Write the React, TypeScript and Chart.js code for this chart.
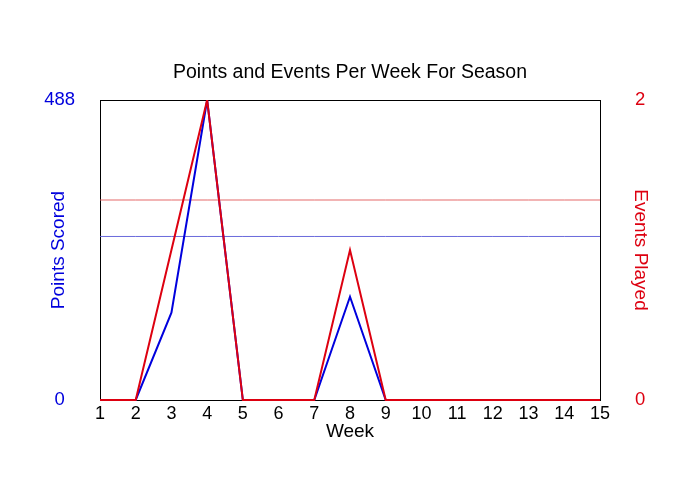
import React, { useEffect, useRef } from "react";
import { Chart, registerables } from "chart.js";

Chart.register(...registerables);

const weeks = [1, 2, 3, 4, 5, 6, 7, 8, 9, 10, 11, 12, 13, 14, 15];
const pointsScored = [0, 0, 142, 488, 0, 0, 0, 168, 0, 0, 0, 0, 0, 0, 0];
const eventsPlayed = [0, 0, 1, 2, 0, 0, 0, 1, 0, 0, 0, 0, 0, 0, 0];
const pointsTicks = [0, 488];
const eventsTicks = [0, 2];

const chartTitle = "Points and Events Per Week For Season";
const xTitle = "Week";
const leftTitle = "Points Scored";
const rightTitle = "Events Played";

const playedIdx = eventsPlayed.map((e, i) => (e > 0 ? i : -1)).filter((i) => i >= 0);
const avgPoints = playedIdx.reduce((s, i) => s + pointsScored[i], 0) / playedIdx.length;
const avgEvents = playedIdx.reduce((s, i) => s + eventsPlayed[i], 0) / playedIdx.length;

const BLUE = "#0000dd";
const RED = "#dd0010";
const FONT = "'Liberation Sans', Arial, sans-serif";

const boxPlugin = {
  id: "plotBox",
  beforeDatasetsDraw(chart: any) {
    const { ctx, chartArea } = chart;
    ctx.save();
    ctx.strokeStyle = "#000";
    ctx.lineWidth = 1;
    ctx.strokeRect(
      Math.round(chartArea.left) + 0.5,
      Math.round(chartArea.top) + 0.5,
      Math.round(chartArea.right - chartArea.left),
      Math.round(chartArea.bottom - chartArea.top)
    );
    ctx.restore();
  },
};

const lineClip = { left: 2, top: 0, right: 2, bottom: 2 };

export default function App() {
  const ref = useRef<HTMLCanvasElement>(null);
  useEffect(() => {
    if (!ref.current) return;
    const chart = new Chart(ref.current, {
      type: "line",
      data: {
        labels: weeks,
        datasets: [
          {
            label: "Events",
            data: eventsPlayed,
            yAxisID: "yR",
            borderColor: RED,
            borderWidth: 2,
            pointRadius: 0,
            tension: 0,
            clip: lineClip,
            order: 0,
          },
          {
            label: "Points",
            data: pointsScored,
            yAxisID: "yL",
            borderColor: BLUE,
            borderWidth: 2,
            pointRadius: 0,
            tension: 0,
            clip: lineClip,
            order: 1,
          },
          {
            label: "Avg Events",
            data: weeks.map(() => avgEvents),
            yAxisID: "yR",
            borderColor: "rgba(225,90,90,0.9)",
            borderWidth: 1,
            pointRadius: 0,
            order: 2,
          },
          {
            label: "Avg Points",
            data: weeks.map(() => avgPoints),
            yAxisID: "yL",
            borderColor: "rgba(90,90,215,0.9)",
            borderWidth: 1,
            pointRadius: 0,
            order: 3,
          },
        ],
      },
      options: {
        animation: false,
        responsive: false,
        maintainAspectRatio: false,
        layout: { padding: 0 },
        plugins: {
          legend: { display: false },
          tooltip: { enabled: false },
          title: {
            display: true,
            text: chartTitle,
            color: "#000",
            font: { family: FONT, size: 19.5, weight: "normal" },
            padding: { top: 61.3, bottom: 15.3 },
          },
        },
        scales: {
          x: {
            type: "category",
            offset: false,
            grid: { display: false },
            border: { display: false },
            ticks: {
              color: "#000",
              font: { family: FONT, size: 18 },
              padding: -5,
              maxRotation: 0,
              autoSkip: false,
            },
            title: {
              display: true,
              text: xTitle,
              color: "#000",
              font: { family: FONT, size: 19 },
              padding: { top: 0, bottom: 56.6 },
            },
            afterFit: (s: any) => {
              s.height = 100;
            },
          },
          yL: {
            type: "linear",
            position: "left",
            min: 0,
            max: pointsTicks[pointsTicks.length - 1],
            grid: { display: false },
            border: { display: false },
            afterBuildTicks: (s: any) => {
              s.ticks = pointsTicks.map((v) => ({ value: v }));
            },
            ticks: {
              color: BLUE,
              font: { family: FONT, size: 18.5 },
              crossAlign: "center",
              padding: 17,
            },
            title: {
              display: true,
              text: leftTitle,
              color: BLUE,
              font: { family: FONT, size: 19 },
              padding: { top: 47.6, bottom: 0 },
            },
            afterFit: (s: any) => {
              s.width = 100;
            },
          },
          yR: {
            type: "linear",
            position: "right",
            min: 0,
            max: eventsTicks[eventsTicks.length - 1],
            grid: { display: false },
            border: { display: false },
            afterBuildTicks: (s: any) => {
              s.ticks = eventsTicks.map((v) => ({ value: v }));
            },
            ticks: {
              color: RED,
              font: { family: FONT, size: 18.5 },
              crossAlign: "center",
              padding: 27,
            },
            title: {
              display: true,
              text: rightTitle,
              color: RED,
              font: { family: FONT, size: 19 },
              padding: { top: 48.6, bottom: 0 },
            },
            afterFit: (s: any) => {
              s.width = 100;
            },
          },
        },
      },
      plugins: [boxPlugin],
    });
    return () => chart.destroy();
  }, []);
  return (
    <div style={{ position: "fixed", left: 0, top: 0, width: 700, height: 500, background: "#fff" }}>
      <canvas ref={ref} width={700} height={500} style={{ width: 700, height: 500 }} />
    </div>
  );
}
